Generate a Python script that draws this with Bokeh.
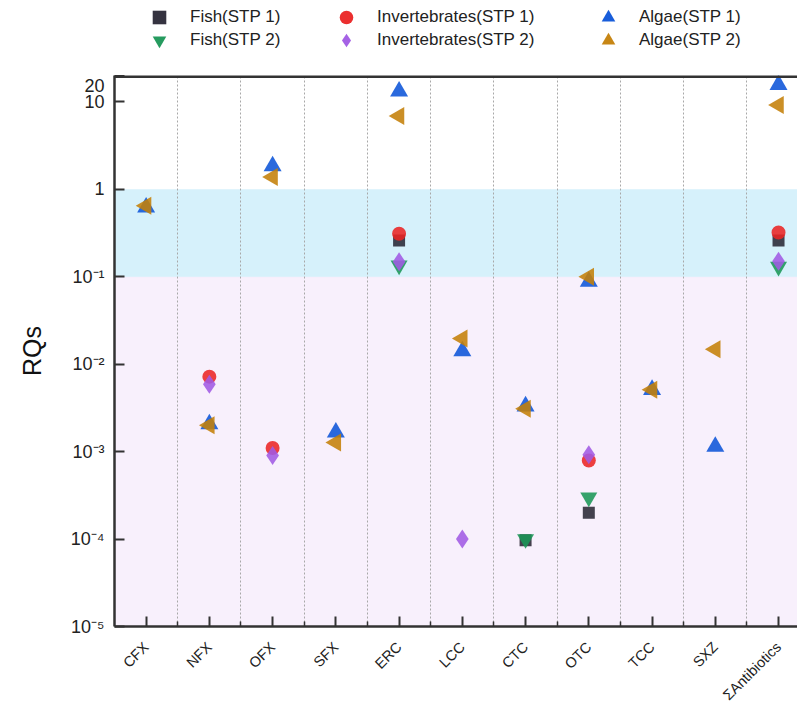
import math
import numpy as np
from bokeh.plotting import figure
from bokeh.layouts import column
from bokeh.models import (FixedTicker, BoxAnnotation, Span, Legend, LegendItem,
                          Range1d, ColumnDataSource)
from bokeh.embed import file_html
from bokeh.resources import INLINE

nan = float("nan")

categories = ["CFX", "NFX", "OFX", "SFX", "ERC", "LCC", "CTC", "OTC", "TCC", "SXZ", "ΣAntibiotics"]

fish_stp1 = [nan, nan, nan, nan, 0.26, nan, 0.000097, 0.0002, nan, nan, 0.26]
fish_stp2 = [nan, nan, nan, nan, 0.135, nan, 0.0001, 0.0003, nan, nan, 0.13]
invert_stp1 = [nan, 0.0072, 0.0011, nan, 0.31, nan, nan, 0.00079, nan, nan, 0.32]
invert_stp2 = [nan, 0.0059, 0.0009, nan, 0.148, 0.0001, nan, 0.00092, nan, nan, 0.15]
algae_stp1 = [0.62, 0.00206, 1.84, 0.00166, 13.2, 0.0141, 0.0033, 0.088, 0.0051, 0.00114, 15.7]
algae_stp2 = [0.65, 0.0020, 1.38, 0.00127, 6.9, 0.0197, 0.0031, 0.10, 0.0051, 0.0148, 9.2]

series_labels = ["Fish(STP 1)", "Fish(STP 2)", "Invertebrates(STP 1)",
                 "Invertebrates(STP 2)", "Algae(STP 1)", "Algae(STP 2)"]

y_tick_values = [1e-5, 1e-4, 1e-3, 1e-2, 1e-1, 1, 10, 20]
y_tick_labels = ["10⁻⁵", "10⁻⁴", "10⁻³", "10⁻²", "10⁻¹", "1", "10", "20"]

band_low = (1e-5, 0.1)
band_mid = (0.1, 1)

FONT = "Liberation Sans"

# marker styles per series (marker, colour, size, angle)
styles = [
    ("square", "#2a2836", 12, 0.0),
    ("inverted_triangle", "#1a9656", 17, 0.0),
    ("circle", "#ea2424", 14, 0.0),
    ("diamond", "#a05ae4", 19, 0.0),
    ("triangle", "#0c54d8", 18, 0.0),
    ("triangle", "#c47f08", 18, math.pi / 2),
]
series_values = [fish_stp1, fish_stp2, invert_stp1, invert_stp2, algae_stp1, algae_stp2]

n = len(categories)
x_idx = list(range(n))
mids = [i + 0.5 for i in range(n - 1)]

p = figure(width=797, height=636, y_axis_type="log",
           x_range=Range1d(-0.5, n - 0.7), y_range=Range1d(1e-5, 20),
           output_backend="svg", toolbar_location=None,
           min_border_left=114, min_border_right=0, min_border_top=0,
           min_border_bottom=83)
p.outline_line_color = None
p.background_fill_color = "white"
p.border_fill_color = "white"

# bands
p.add_layout(BoxAnnotation(bottom=band_low[0], top=band_low[1], fill_color="#f8f0fc",
                           fill_alpha=1, line_color="#d9d4f2", line_width=1, level="image"))
p.add_layout(BoxAnnotation(bottom=band_mid[0], top=band_mid[1], fill_color="#d6f1fb",
                           fill_alpha=1, line_color=None, level="image"))

# grid
p.ygrid.visible = False
p.xgrid.ticker = FixedTicker(ticks=mids)
p.xgrid.grid_line_color = "#a8a8a8"
p.xgrid.grid_line_dash = "2 2"
p.xgrid.grid_line_width = 1
p.xgrid.level = "underlay"

# top border
p.add_layout(Span(location=20, dimension="width", line_color="#333333", line_width=5))

# axes
p.xaxis.ticker = FixedTicker(ticks=x_idx, minor_ticks=mids)
p.xaxis.major_label_overrides = {i: c for i, c in zip(x_idx, categories)}
p.xaxis.major_label_orientation = math.pi / 4
p.xaxis.major_tick_in = 10
p.xaxis.major_tick_out = 0
p.xaxis.minor_tick_in = 5
p.xaxis.minor_tick_out = 0
p.xaxis.major_label_text_font = FONT
p.xaxis.major_label_text_font_size = "14.5px"
p.xaxis.major_label_text_color = "#222222"
p.xaxis.major_label_standoff = 18

p.yaxis.ticker = FixedTicker(ticks=y_tick_values, minor_ticks=[])
p.yaxis.major_label_overrides = {v: l for v, l in zip(y_tick_values, y_tick_labels)}
p.yaxis.major_tick_in = 10
p.yaxis.major_tick_out = 0
p.yaxis.major_label_text_font = FONT
p.yaxis.major_label_text_font_size = "18px"
p.yaxis.major_label_text_color = "#222222"
p.yaxis.major_label_standoff = 10
p.yaxis.axis_label = "RQs"
p.yaxis.axis_label_text_font = FONT
p.yaxis.axis_label_text_font_size = "25px"
p.yaxis.axis_label_text_font_style = "normal"
p.yaxis.axis_label_text_color = "#111111"
p.yaxis.axis_label_standoff = 22

for ax in (p.xaxis, p.yaxis):
    ax.axis_line_color = "#333333"
    ax.axis_line_width = 2.5
    ax.major_tick_line_color = "#333333"
    ax.major_tick_line_width = 2
    ax.minor_tick_line_width = 1.5
    ax.minor_tick_line_color = "#333333"
p.yaxis.minor_tick_line_color = None

sources = []
for vals, (marker, color, size, angle) in zip(series_values, styles):
    xs = [i for i, v in zip(x_idx, vals) if not np.isnan(v)]
    ys = [v for v in vals if not np.isnan(v)]
    src = ColumnDataSource(dict(x=xs, y=ys, ang=[angle] * len(xs)))
    sources.append(src)
    p.scatter("x", "y", source=src, marker=marker, size=size, angle="ang",
              fill_color=color, fill_alpha=0.88, line_color=None)

# legend strip above the chart (its own small figure; its ranges keep the points out of view)
lf = figure(width=797, height=75, x_range=Range1d(-30, -20), y_range=Range1d(-30, -20),
            output_backend="svg", toolbar_location=None,
            min_border_left=0, min_border_right=0, min_border_top=0, min_border_bottom=0)
lf.axis.visible = False
lf.grid.visible = False
lf.outline_line_color = None
lf.border_fill_color = "white"
lf.background_fill_color = "white"

col_x = [28, 215, 477]
row_y = [41, 18]
for k, (lab, src, (marker, color, size, angle)) in enumerate(zip(series_labels, sources, styles)):
    r = lf.scatter("x", "y", source=src, marker=marker, angle="ang", size=size,
                   fill_color=color, fill_alpha=0.95, line_color=None)
    col, row = divmod(k, 2)
    lg = Legend(items=[LegendItem(label=lab, renderers=[r], index=0)],
                location=(col_x[col], row_y[row]),
                border_line_color=None, background_fill_alpha=0,
                label_text_font=FONT, label_text_font_size="17px",
                label_text_color="#222222", label_height=20,
                glyph_width=34, glyph_height=34, spacing=0, padding=0,
                label_standoff=14, margin=0)
    lf.add_layout(lg, "center")

layout = column(lf, p, spacing=0)
open("out.html", "w").write(file_html(layout, INLINE))
